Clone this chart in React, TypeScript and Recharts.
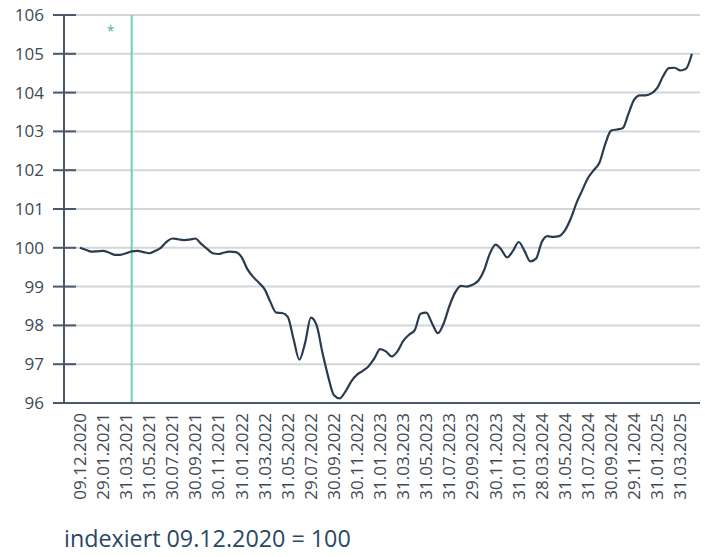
import { CartesianGrid, Line, LineChart, ReferenceLine, XAxis, YAxis } from 'recharts';

// tick labels along the x axis (one every ~2 months)
const dateLabels = [
  '09.12.2020', '29.01.2021', '31.03.2021', '31.05.2021', '30.07.2021', '30.09.2021',
  '30.11.2021', '31.01.2022', '31.03.2022', '31.05.2022', '29.07.2022', '30.09.2022',
  '30.11.2022', '31.01.2023', '31.03.2023', '31.05.2023', '31.07.2023', '29.09.2023',
  '30.11.2023', '31.01.2024', '28.03.2024', '31.05.2024', '31.07.2024', '30.09.2024',
  '29.11.2024', '31.01.2025', '31.03.2025',
];

// index values, 4 readings per label interval
const indexValues = [
  100.0, 99.95, 99.9, 99.91, 99.92, 99.88, 99.82, 99.82, 99.86, 99.91,
  99.92, 99.89, 99.86, 99.92, 100.0, 100.15, 100.24, 100.22, 100.2, 100.21,
  100.24, 100.1, 99.98, 99.86, 99.84, 99.88, 99.9, 99.89, 99.76, 99.45,
  99.25, 99.1, 98.93, 98.6, 98.33, 98.32, 98.22, 97.65, 97.12, 97.55,
  98.2, 98.0, 97.3, 96.68, 96.2, 96.12, 96.3, 96.56, 96.73, 96.83,
  96.95, 97.15, 97.39, 97.33, 97.2, 97.33, 97.6, 97.76, 97.88, 98.3,
  98.33, 98.05, 97.8, 98.05, 98.5, 98.85, 99.02, 99.0, 99.05, 99.15,
  99.42, 99.85, 100.08, 99.95, 99.75, 99.92, 100.15, 99.92, 99.65, 99.72,
  100.15, 100.3, 100.28, 100.3, 100.45, 100.75, 101.15, 101.48, 101.8, 102.0,
  102.2, 102.68, 103.02, 103.05, 103.08, 103.45, 103.82, 103.93, 103.93, 103.98,
  104.12, 104.42, 104.63, 104.64, 104.57, 104.62, 105.0,
];

const stepsPerLabel = 4;
const yTicks = [96, 97, 98, 99, 100, 101, 102, 103, 104, 105, 106];
const markerPosition = 2.24; // green marker, just after 31.03.2021

const chartData = indexValues.map((value, i) => ({ t: i / stepsPerLabel, value }));
const xTicks = dateLabels.map((_, i) => i);

const FONT = '"Open Sans", "Liberation Sans", sans-serif';
const AXIS = '#4b5869';

function YTick(props: any) {
  const { x, y, payload } = props;
  return (
    <g>
      <line x1={x + 9} x2={x + 32} y1={y} y2={y} stroke={AXIS} strokeWidth={2} />
      <text x={x} y={y} dy="0.35em" textAnchor="end" fontSize={17} fontFamily={FONT} fill="#404953">
        {payload.value}
      </text>
    </g>
  );
}

function XTick(props: any) {
  const { x, y, payload } = props;
  return (
    <text
      x={x}
      y={y}
      dy="0.35em"
      textAnchor="end"
      transform={`rotate(-90, ${x}, ${y})`}
      fontSize={17}
      fontFamily={FONT}
      fill="#404953"
    >
      {dateLabels[payload.value]}
    </text>
  );
}

export default function App() {
  return (
    <div style={{ position: 'absolute', left: 0, top: 0, width: 705, height: 557, background: '#fff' }}>
      <LineChart width={705} height={510} data={chartData} margin={{ top: 15, right: 5, left: 0, bottom: 0 }}>
        <CartesianGrid vertical={false} stroke="#d2d6dc" strokeWidth={2} />
        <XAxis
          dataKey="t"
          type="number"
          domain={[-0.69, 26.85]}
          ticks={xTicks}
          interval={0}
          tickLine={false}
          tickSize={0}
          tickMargin={10}
          height={107}
          stroke={AXIS}
          strokeWidth={2}
          tick={(p: any) => <XTick {...p} />}
        />
        <YAxis
          domain={[96, 106]}
          ticks={yTicks}
          interval={0}
          width={64}
          tickLine={false}
          tickSize={11}
          tickMargin={9}
          stroke={AXIS}
          strokeWidth={2}
          tick={(p: any) => <YTick {...p} />}
        />
        <ReferenceLine
          x={markerPosition}
          stroke="#6fd3aa"
          strokeWidth={2}
          label={(p: any) => (
            <text x={p.viewBox.x - 21} y={p.viewBox.y + 21} fontSize={14} fill="#4fb58c" fontFamily={FONT} textAnchor="middle">
              *
            </text>
          )}
        />
        <Line
          type="monotone"
          dataKey="value"
          stroke="#2a3b50"
          strokeWidth={2.2}
          dot={false}
          isAnimationActive={false}
        />
      </LineChart>
      <div
        style={{
          position: 'absolute',
          left: 64,
          top: 523,
          fontFamily: FONT,
          fontSize: 23.3,
          lineHeight: '30px',
          color: '#2b4764',
          whiteSpace: 'nowrap',
        }}
      >
        indexiert 09.12.2020 = 100
      </div>
    </div>
  );
}
